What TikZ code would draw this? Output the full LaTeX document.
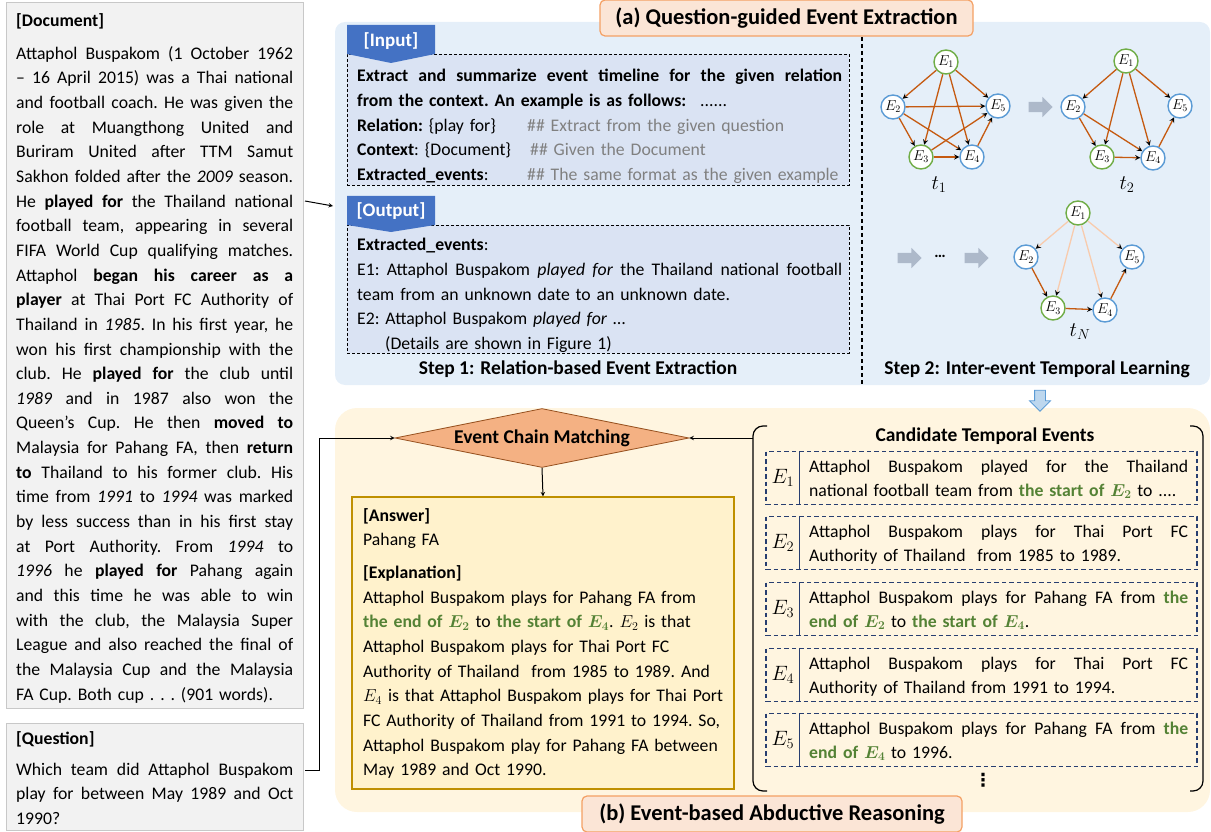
\documentclass[tikz,border=0pt]{standalone}
\usepackage{fontspec}
\setmainfont{Carlito}
\newfontfamily\symfont{DejaVu Sans}
\usetikzlibrary{shapes.geometric,shapes.arrows}

\definecolor{panelblue}{RGB}{229,239,249}
\definecolor{boxblue}{RGB}{218,227,243}
\definecolor{tabblue}{RGB}{68,114,196}
\definecolor{panelcream}{RGB}{255,245,224}
\definecolor{answerfill}{RGB}{255,242,204}
\definecolor{answeredge}{RGB}{191,144,0}
\definecolor{titlefill}{RGB}{251,229,214}
\definecolor{titleedge}{RGB}{244,160,100}
\definecolor{diamondfill}{RGB}{244,177,131}
\definecolor{diamondedge}{RGB}{150,80,30}
\definecolor{docfill}{RGB}{242,242,242}
\definecolor{docedge}{RGB}{200,200,200}
\definecolor{edgeorange}{RGB}{197,90,17}
\definecolor{edgelight}{RGB}{248,203,173}
\definecolor{evgreen}{RGB}{112,173,71}
\definecolor{evblue}{RGB}{91,155,213}
\definecolor{textgreen}{RGB}{84,130,53}
\definecolor{hintgray}{RGB}{128,128,128}
\definecolor{arrowgray}{RGB}{173,185,202}
\definecolor{downfill}{RGB}{189,215,238}
\definecolor{evedge}{RGB}{40,62,112}

% justified line: spaces get fil stretch
\newcommand{\jline}[2][277pt]{\makebox[#1][s]{\spaceskip=0.226em plus 1fil\relax #2}}
\newcommand{\grn}[1]{\textcolor{textgreen}{\bfseries\boldmath #1}}
\newcommand{\hint}[1]{\textcolor{hintgray}{#1}}

\tikzset{
  bodytext/.style={inner sep=0pt, font=\frenchspacing\fontsize{17.7}{24.65}\selectfont},
  headtext/.style={font=\bfseries\fontsize{19.5}{22}\selectfont},
  titlebox/.style={draw=titleedge, fill=titlefill, line width=1.2pt, rounded corners=5pt, inner sep=0pt, font=\bfseries\fontsize{22.5}{26}\selectfont},
  paperbox/.style={draw=docedge, fill=docfill, line width=1pt},
  promptbox/.style={draw=black, fill=boxblue, dash pattern=on 3pt off 2pt, line width=0.9pt},
  tabtext/.style={text=white, font=\bfseries\fontsize{19}{22}\selectfont},
  gnode/.style={circle, draw, fill=white, line width=1.4pt, minimum size=24pt, inner sep=0pt, font=\fontsize{14}{14}\selectfont},
  gkey/.style={gnode, draw=evgreen},
  gplain/.style={gnode, draw=evblue},
  gedge/.style={-stealth, draw=edgeorange, line width=1.3pt},
  gfaint/.style={gedge, draw=edgelight},
  tlabel/.style={font=\fontsize{20}{20}\selectfont},
  flowarrow/.style={single arrow, fill=arrowgray, inner sep=5pt, single arrow head extend=5pt, minimum height=24pt},
  conn/.style={-stealth, line width=1pt, black},
  evbox/.style={draw=evedge, dash pattern=on 4.5pt off 3pt, line width=1.1pt, minimum width=431pt, minimum height=53pt},
  evtext/.style={anchor=base west, inner sep=0pt, text width=379pt, align=left, font=\frenchspacing\fontsize{17.7}{24}\selectfont},
  evlabel/.style={font=\fontsize{20}{20}\selectfont},
}

\begin{document}
\begin{tikzpicture}[x=1pt,y=-1pt]
\useasboundingbox (0,0) rectangle (1211,832);

% panels
\fill[panelblue, rounded corners=10pt] (335,22) rectangle (1210,385);
\fill[panelcream, rounded corners=22pt] (335,408) rectangle (1210,812);

% document + question
\node[paperbox, minimum width=297pt, minimum height=705pt] (doc) at (154.5,355.5) {};
\node[paperbox, minimum width=297pt, minimum height=107pt] (quest) at (154.5,776.5) {};
\node[bodytext, anchor=base west, text width=277pt, align=left] (doctext) at (16,27) {\textbf{[Document]}\\[7.6pt]
\jline{Attaphol Buspakom (1 October 1962}\\
\jline{-- 16 April 2015) was a Thai national}\\
\jline{and football coach. He was given the}\\
\jline{role at Muangthong United and}\\
\jline{Buriram United after TTM Samut}\\
\jline{Sakhon folded after the \textit{2009} season.}\\
\jline{He \textbf{played for} the Thailand national}\\
\jline{football team, appearing in several}\\
\jline{FIFA World Cup qualifying matches.}\\
\jline{Attaphol \textbf{began his career as a}}\\
\jline{\textbf{player} at Thai Port FC Authority of}\\
\jline{Thailand in \textit{1985}. In his first year, he}\\
\jline{won his first championship with the}\\
\jline{club. He \textbf{played for} the club until}\\
\jline{\textit{1989} and in 1987 also won the}\\
\jline{Queen's Cup. He then \textbf{moved to}}\\
\jline{Malaysia for Pahang FA, then \textbf{return}}\\
\jline{\textbf{to} Thailand to his former club. His}\\
\jline{time from \textit{1991} to \textit{1994} was marked}\\
\jline{by less success than in his first stay}\\
\jline{at Port Authority. From \textit{1994} to}\\
\jline{\textit{1996} he \textbf{played for} Pahang again}\\
\jline{and this time he was able to win}\\
\jline{with the club, the Malaysia Super}\\
\jline{League and also reached the final of}\\
\jline{the Malaysia Cup and the Malaysia}\\
FA Cup. Both cup . . . (901 words).};
\node[bodytext, anchor=base west, text width=277pt, align=left] (questtext) at (16,744) {\textbf{[Question]}\\[6.35pt]
\jline{Which team did Attaphol Buspakom}\\
\jline{play for between May 1989 and Oct}\\
1990?};

% (a) question-guided event extraction
\node[titlebox, minimum width=373pt, minimum height=36pt] (titlea) at (786.5,18) {(a) Question-guided Event Extraction};
\draw[line width=1.2pt, dash pattern=on 4pt off 3pt] (862,37) -- (862,385);

\node[promptbox, minimum width=502pt, minimum height=131pt] (inbox) at (598,119.5) {};
\fill[tabblue] (347,25) -- (435,25) -- (435,54) -- (391,63) -- (347,54) -- cycle;
\node[tabtext] (intab) at (391,41) {[Input]};
\node[bodytext, anchor=base west, text width=485pt, align=left] (intext) at (357,82) {\jline[485pt]{\textbf{Extract and summarize event timeline for the given relation}}\\
\mbox{\textbf{from the context. An example is as follows:}\hspace{14pt}......}\\
\mbox{\makebox[170pt][l]{\textbf{Relation:} \{play for\}}\hint{\#\# Extract from the given question}}\\
\mbox{\makebox[173pt][l]{\textbf{Context}: \{Document\}}\hint{\#\# Given the Document}}\\
\mbox{\makebox[170pt][l]{\textbf{Extracted\_events}:}\hint{\#\# The same format as the given example}}};

\node[promptbox, minimum width=502pt, minimum height=128pt] (outbox) at (598,289) {};
\fill[tabblue] (347,196) -- (435,196) -- (435,225) -- (391,232) -- (347,225) -- cycle;
\node[tabtext] (outtab) at (391,211) {[Output]};
\node[bodytext, anchor=base west, text width=485pt, align=left] (outtext) at (357,251) {\textbf{Extracted\_events}:\\
\jline[485pt]{E1: Attaphol Buspakom \textit{played for} the Thailand national football}\\
\mbox{team from an unknown date to an unknown date.}\\
\mbox{E2: Attaphol Buspakom \textit{played for} …}\\
\hspace*{28pt}(Details are shown in Figure 1)};
\node[headtext] (step1) at (578,369) {Step 1: Relation-based Event Extraction};

% graphs
\node[gkey] (a1) at (946,62) {$E_1$};
\node[gplain] (a2) at (893,107) {$E_2$};
\node[gkey] (a3) at (921,157) {$E_3$};
\node[gplain] (a4) at (972,157) {$E_4$};
\node[gplain] (a5) at (998,106) {$E_5$};
\node[tlabel] (t1) at (939,185) {$t_1$};
\draw[gedge] (a1) edge (a2) (a1) edge (a3) (a1) edge (a4) (a1) edge (a5)
  (a2) edge (a3) (a2) edge (a4) (a2) edge (a5)
  (a3) edge (a4) (a3) edge (a5) (a4) edge (a5);

\node[flowarrow] (fa1) at (1038,107) {};

\node[gkey] (b1) at (1126,61) {$E_1$};
\node[gplain] (b2) at (1073,107) {$E_2$};
\node[gkey] (b3) at (1102,157) {$E_3$};
\node[gplain] (b4) at (1153,158) {$E_4$};
\node[gplain] (b5) at (1180,106) {$E_5$};
\node[tlabel] (t2) at (1127,185) {$t_2$};
\draw[gedge] (b1) edge (b2) (b1) edge (b3) (b1) edge (b4) (b1) edge (b5)
  (b2) edge (b3) (b2) edge (b4) (b3) edge (b4) (b4) edge (b5);

\node[flowarrow] (fa2) at (907,258) {};
\node[font=\bfseries\fontsize{16}{16}\selectfont] (dots) at (940,256) {…};
\node[flowarrow] (fa3) at (974,258) {};

\node[gkey] (c1) at (1078,213) {$E_1$};
\node[gplain] (c2) at (1026,257) {$E_2$};
\node[gkey] (c3) at (1053,308) {$E_3$};
\node[gplain] (c4) at (1105,310) {$E_4$};
\node[gplain] (c5) at (1132,257) {$E_5$};
\node[tlabel] (tn) at (1080,332) {$t_N$};
\draw[gfaint] (c1) edge (c2) (c1) edge (c3) (c1) edge (c4) (c1) edge (c5);
\draw[gedge] (c2) edge (c3) (c3) edge (c4) (c4) edge (c5);
\node[headtext] (step2) at (1037,369) {Step 2: Inter-event Temporal Learning};

\node[single arrow, shape border rotate=270, fill=downfill, draw=evblue, line width=0.8pt, inner sep=5pt, single arrow head extend=5pt, minimum height=21pt] (down) at (1040,398) {};

% (b) event-based abductive reasoning
\node[diamond, aspect=4.9, fill=diamondfill, draw=diamondedge, line width=0.8pt, minimum width=294pt, minimum height=59pt, inner sep=0pt, headtext] (match) at (542,438) {Event Chain Matching};
\node[draw=answeredge, fill=answerfill, line width=1.2pt, minimum width=382pt, minimum height=292pt] (answer) at (543,643) {};
\draw[conn] (match.south) -- (answer.north);
\node[bodytext, anchor=base west, text width=375pt, align=left] (anstext) at (363,521) {\textbf{[Answer]}\\
Pahang FA\\[8.3pt]
\textbf{[Explanation]}\\
Attaphol Buspakom plays for Pahang FA from\\
\grn{the end of $E_2$} to \grn{the start of $E_4$}. $E_2$ is that\\
Attaphol Buspakom plays for Thai Port FC\\
Authority of Thailand\ \ from 1985 to 1989. And\\
$E_4$ is that Attaphol Buspakom plays for Thai Port\\
FC Authority of Thailand from 1991 to 1994. So,\\
Attaphol Buspakom play for Pahang FA between\\
May 1989 and Oct 1990.};

\coordinate (qout) at (305,770);
\draw[conn] (qout) -- (319,770) |- (match.west);
\coordinate (docout) at (305,201);
\coordinate (extin) at (333,206);
\draw[conn] (docout) -- (extin);

% candidate events
\draw[line width=1.2pt, rounded corners=10pt] (767,426) -- (753,426) -- (753,791) -- (767,791);
\draw[line width=1.2pt, rounded corners=10pt] (1190,426) -- (1203,426) -- (1203,791) -- (1190,791);
\coordinate (candin) at (753,438);
\draw[conn] (candin) -- (match.east);
\node[headtext] (candtitle) at (985,436) {Candidate Temporal Events};

\node[evbox] (e1) at (981.5,478) {};
\node[evlabel] (l1) at (783,478) {$E_1$};
\draw[evedge, line width=1pt] ([xshift=34pt]e1.north west) -- ([xshift=34pt]e1.south west);
\node[evtext] (x1) at (809,472) {\jline[379pt]{Attaphol Buspakom played for the Thailand}\\
national football team from \grn{the start of $E_2$} to ....};

\node[evbox] (e2) at (981.5,543) {};
\node[evlabel] (l2) at (783,543) {$E_2$};
\draw[evedge, line width=1pt] ([xshift=34pt]e2.north west) -- ([xshift=34pt]e2.south west);
\node[evtext] (x2) at (809,537) {\jline[379pt]{Attaphol Buspakom plays for Thai Port FC}\\
Authority of Thailand\ \ from 1985 to 1989.};

\node[evbox] (e3) at (981.5,609) {};
\node[evlabel] (l3) at (783,609) {$E_3$};
\draw[evedge, line width=1pt] ([xshift=34pt]e3.north west) -- ([xshift=34pt]e3.south west);
\node[evtext] (x3) at (809,603) {\jline[379pt]{Attaphol Buspakom plays for Pahang FA from \grn{the}}\\
\grn{end of $E_2$} to \grn{the start of $E_4$}.};

\node[evbox] (e4) at (981.5,675) {};
\node[evlabel] (l4) at (783,675) {$E_4$};
\draw[evedge, line width=1pt] ([xshift=34pt]e4.north west) -- ([xshift=34pt]e4.south west);
\node[evtext] (x4) at (809,669) {\jline[379pt]{Attaphol Buspakom plays for Thai Port FC}\\
Authority of Thailand from 1991 to 1994.};

\node[evbox] (e5) at (981.5,740) {};
\node[evlabel] (l5) at (783,740) {$E_5$};
\draw[evedge, line width=1pt] ([xshift=34pt]e5.north west) -- ([xshift=34pt]e5.south west);
\node[evtext] (x5) at (809,734) {\jline[379pt]{Attaphol Buspakom plays for Pahang FA from \grn{the}}\\
\grn{end of $E_4$} to 1996.};

\node[font=\symfont\bfseries\fontsize{18}{18}\selectfont] (more) at (983,780) {⋮};

\node[titlebox, minimum width=380pt, minimum height=36pt] (titleb) at (772,814) {(b) Event-based Abductive Reasoning};
\end{tikzpicture}
\end{document}
